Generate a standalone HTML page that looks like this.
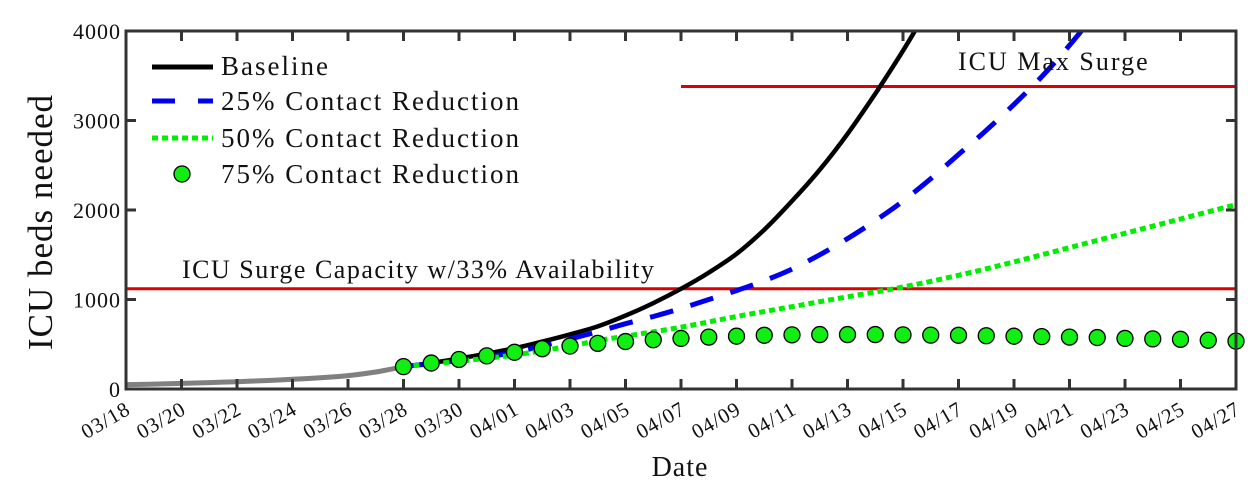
<!DOCTYPE html>
<html><head><meta charset="utf-8"><style>
body{margin:0;background:#fff;}
svg text{font-family:"Liberation Serif",serif;fill:#111;}
</style></head><body>
<svg id="chart" width="1255" height="489" viewBox="0 0 1255 489" xmlns="http://www.w3.org/2000/svg">
<g id="plot"></g>
</svg>
<script>
const historyDays=[0,1,2,3,4,5,6,7,8,9,10];
const historyVals=[48,55,63,72,82,94,108,125,150,190,250];
const baselineDays=[10,11,12,13,14,15,16,17,18,19,20,21,22,23,24,25,26,27,28,29];
const baselineVals=[250,290,340,395,455,530,610,700,820,960,1120,1300,1510,1780,2100,2450,2850,3300,3780,4300];
const r25Days=[10,12,14,16,17,18,19,20,21,22,23,24,25,26,27,28,29,30,31,32,33,34,35];
const r25Vals=[250,320,410,560,640,730,810,900,1000,1100,1210,1340,1500,1680,1880,2100,2350,2620,2890,3180,3490,3840,4220];
const r50Days=[10,12,14,16,17,18,20,22,24,26,28,30,32,34,36,38,40];
const r50Vals=[250,310,380,480,540,590,690,810,920,1030,1140,1270,1420,1580,1740,1900,2060];
const r75Days=[10,11,12,13,14,15,16,17,18,19,20,21,22,23,24,25,26,27,28,29,30,31,32,33,34,35,36,37,38,39,40];
const r75Vals=[250,290,330,370,410,450,480,510,530,550,565,580,590,600,605,608,608,608,605,602,600,595,590,585,580,575,565,560,555,545,535];
const yTicks=[0,1000,2000,3000,4000];
const xTickLabels=["03/18","03/20","03/22","03/24","03/26","03/28","03/30","04/01","04/03","04/05","04/07","04/09","04/11","04/13","04/15","04/17","04/19","04/21","04/23","04/25","04/27"];
const surgeCapacity=1120, maxSurge=3380, maxSurgeStartDay=20;

const L=126,R=1236,T=31,B=389,NS="http://www.w3.org/2000/svg";
const xs=d=>L+(d/40)*(R-L);
const ys=v=>B-(v/4000)*(B-T);
const svg=document.getElementById('chart');
const g=document.getElementById('plot');
function el(t,a,p){const e=document.createElementNS(NS,t);for(const k in a)e.setAttribute(k,a[k]);(p||g).appendChild(e);return e;}
function smooth(ds,vs){
 const p=ds.map((d,i)=>[xs(d),ys(vs[i])]);
 let s="M"+p[0][0].toFixed(1)+","+p[0][1].toFixed(1);
 for(let i=0;i<p.length-1;i++){
  const p0=p[Math.max(0,i-1)],p1=p[i],p2=p[i+1],p3=p[Math.min(p.length-1,i+2)];
  const c1=[p1[0]+(p2[0]-p0[0])/6,p1[1]+(p2[1]-p0[1])/6];
  const c2=[p2[0]-(p3[0]-p1[0])/6,p2[1]-(p3[1]-p1[1])/6];
  s+=` C${c1[0].toFixed(1)},${c1[1].toFixed(1)} ${c2[0].toFixed(1)},${c2[1].toFixed(1)} ${p2[0].toFixed(1)},${p2[1].toFixed(1)}`;
 }
 return s;
}

const clip=el('clipPath',{id:'cp'},svg);el('rect',{x:L,y:T,width:R-L,height:B-T},clip);

let e;
e=el('line',{x1:L,x2:R,y1:ys(surgeCapacity),y2:ys(surgeCapacity),stroke:'#dd0000','stroke-width':3});


e=el('line',{x1:xs(maxSurgeStartDay),x2:R,y1:ys(maxSurge),y2:ys(maxSurge),stroke:'#dd0000','stroke-width':3});



e=el('path',{d:smooth(historyDays,historyVals),fill:'none',stroke:'#808080','stroke-width':5,'clip-path':'url(#cp)'});


e=el('path',{d:smooth(baselineDays,baselineVals),fill:'none',stroke:'#000','stroke-width':4.5,'clip-path':'url(#cp)'});


e=el('path',{d:smooth(r25Days,r25Vals),fill:'none',stroke:'#0000ee','stroke-width':5,'stroke-dasharray':'24 18','clip-path':'url(#cp)'});


e=el('path',{d:smooth(r50Days,r50Vals),fill:'none',stroke:'#00ee00','stroke-width':5,'stroke-dasharray':'6 4','clip-path':'url(#cp)'});


r75Days.forEach((d,i)=>{
 const c=el('circle',{cx:xs(d),cy:ys(r75Vals[i]),r:8,fill:'#11ee11',stroke:'#000','stroke-width':1.3});
 
 
});

e=el('rect',{x:L,y:T,width:R-L,height:B-T,fill:'none',stroke:'#333','stroke-width':3});


yTicks.forEach(v=>{
 el('line',{x1:L,x2:L+10,y1:ys(v),y2:ys(v),stroke:'#333','stroke-width':3});
 el('line',{x1:R-10,x2:R,y1:ys(v),y2:ys(v),stroke:'#333','stroke-width':3});
 const t=el('text',{x:L-5,y:ys(v)+8,'text-anchor':'end','font-size':22,'letter-spacing':1});t.textContent=v;
 
 
});
xTickLabels.forEach((lab,i)=>{
 const x=xs(i*2);
 el('line',{x1:x,x2:x,y1:B,y2:B-10,stroke:'#333','stroke-width':3});
 el('line',{x1:x,x2:x,y1:T,y2:T+10,stroke:'#333','stroke-width':3});
 const t=el('text',{x:x+6,y:B+24,'text-anchor':'end','font-size':21,'letter-spacing':1,transform:`rotate(-30 ${x+6} ${B+24})`});t.textContent=lab;
 
 
});
e=el('text',{x:680,y:476,'text-anchor':'middle','font-size':28,'letter-spacing':1});e.textContent='Date';


e=el('text',{x:0,y:0,'text-anchor':'middle','font-size':35,'letter-spacing':1,transform:'translate(52,222) rotate(-90)'});e.textContent='ICU beds needed';


e=el('text',{x:182,y:278,'font-size':26,'letter-spacing':1.5});e.textContent='ICU Surge Capacity w/33% Availability';


e=el('text',{x:958,y:70,'font-size':26,'letter-spacing':2});e.textContent='ICU Max Surge';



const lg=el('g',{});


el('line',{x1:152,x2:213,y1:67,y2:67,stroke:'#000','stroke-width':5},lg);
el('path',{d:'M152,101 H175 M198,101 H213',stroke:'#0000ee','stroke-width':5},lg);
el('line',{x1:152,x2:213,y1:138,y2:138,stroke:'#00ee00','stroke-width':5,'stroke-dasharray':'6 4'},lg);
el('circle',{cx:182,cy:174,r:8,fill:'#11ee11',stroke:'#000','stroke-width':1.3},lg);
[["Baseline",75],["25% Contact Reduction",110],["50% Contact Reduction",147],["75% Contact Reduction",183]].forEach(([s,y])=>{
 const t=el('text',{x:221,y:y,'font-size':27,'letter-spacing':2},lg);t.textContent=s;
 
 
});
</script>
</body></html>
